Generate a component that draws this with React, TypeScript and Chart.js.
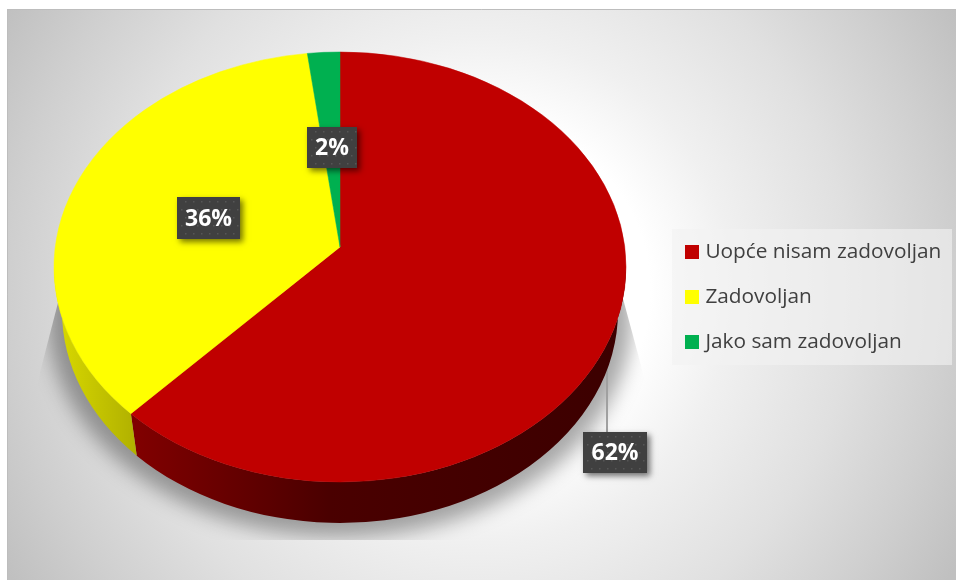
import React, { useEffect, useRef } from "react";
import { Chart, registerables } from "chart.js";

Chart.register(...registerables);

const categories = ["Uopće nisam zadovoljan", "Zadovoljan", "Jako sam zadovoljan"];
const shares = [62, 36, 2];
const sliceColors = ["#C00000", "#FFFF00", "#00B050"];
const sideStops = [
  [["#800000", 0], ["#4a0000", 0.4], ["#3c0000", 1]],
  [["#d6d600", 0], ["#b0b000", 1]],
  [["#006030", 0], ["#006030", 1]],
];

// Apex of the pie in the picture; the rim is an ellipse whose centre lies below it (perspective).
const CX = 340, CY = 247, RX = 286;
const RY = 215, RIM_DROP = 20;
const FLOOR_RX = 278, FLOOR_RY = 212, FLOOR_CY = 311;
const FONT = '"Open Sans", sans-serif';
const LEGEND_FONT = 20.8, LEGEND_GAP = 45 - 20.8;

// label box per slice: offset of box from the apex and size
const labelBoxes = [
  { dx: 243, dy: 185, w: 64, h: 41 },
  { dx: -163, dy: -50, w: 63, h: 42 },
  { dx: -33, dy: -120, w: 50, h: 41 },
];

// Perspective map of a slice angle onto the rim ellipse's parameter.
const P = -RIM_DROP / RY;
function rimAngle(alpha: number) {
  const u = Math.cos(alpha), v = Math.sin(alpha);
  const d = 1 + P * v;
  const u2 = (u * Math.sqrt(1 - P * P)) / d;
  const v2 = (v + P) / d;
  let phi = Math.atan2(v2, u2);
  if (phi < -Math.PI / 2 - 1e-6) phi += Math.PI * 2;
  return phi;
}
function rimSpan(arc: any) {
  const a = rimAngle(arc.startAngle);
  let b = rimAngle(arc.endAngle);
  while (b <= a) b += Math.PI * 2;
  return [a, b];
}

const pie3d = {
  id: "pie3d",
  beforeDraw(chart: any) {
    const ctx = chart.ctx;
    ctx.save();
    ctx.fillStyle = "#ffffff";
    ctx.fillRect(0, 0, chart.width, chart.height);
    const x0 = 7, y0 = 9, x1 = 956, y1 = 580;
    const g = ctx.createRadialGradient(480, 290, 170, 480, 290, 550);
    g.addColorStop(0, "#ffffff");
    g.addColorStop((253 - 170) / 380, "#f0f0f0");
    g.addColorStop((372 - 170) / 380, "#e0e0e0");
    g.addColorStop((470 - 170) / 380, "#cfcfcf");
    g.addColorStop(1, "#c0c0c0");
    ctx.fillStyle = g;
    ctx.fillRect(x0, y0, x1 - x0, y1 - y0);
    ctx.strokeStyle = "#bdbdbd";
    ctx.lineWidth = 1;
    ctx.beginPath();
    ctx.moveTo(x0 + 0.5, y1);
    ctx.lineTo(x0 + 0.5, y0 + 0.5);
    ctx.lineTo(x1, y0 + 0.5);
    ctx.stroke();
    ctx.fillStyle = "rgba(242,242,242,0.62)";
    ctx.fillRect(672, 229, 280, 136);
    ctx.restore();
  },
  afterLayout(chart: any) {
    chart.chartArea = {
      left: CX - RX, right: CX + RX, top: CY - RX, bottom: CY + RX,
      width: 2 * RX, height: 2 * RX,
    };
    const lg = chart.legend;
    if (lg) {
      const w = lg.width;
      lg.left = 685 - LEGEND_GAP;
      lg.right = lg.left + w;
      lg.top = 252 - LEGEND_FONT / 2 - LEGEND_GAP;
      lg.bottom = chart.height;
    }
  },
  afterDatasetsUpdate(chart: any) {
    chart.getDatasetMeta(0).data.forEach((arc: any) => {
      arc.draw = function (ctx: any) {
        const [a, b] = rimSpan(arc);
        ctx.save();
        ctx.fillStyle = arc.options.backgroundColor;
        ctx.strokeStyle = arc.options.backgroundColor;
        ctx.lineWidth = 0.5;
        ctx.beginPath();
        ctx.moveTo(arc.x, arc.y);
        ctx.ellipse(arc.x, arc.y + RIM_DROP, arc.outerRadius, RY, 0, a, b, false);
        ctx.closePath();
        ctx.fill();
        ctx.stroke();
        ctx.restore();
      };
    });
  },
  beforeDatasetsDraw(chart: any) {
    const ctx = chart.ctx;
    const arcs = chart.getDatasetMeta(0).data;
    // soft cast shadow, cut by its own bounds
    ctx.save();
    ctx.beginPath();
    ctx.moveTo(60, 295);
    ctx.lineTo(38, 380);
    ctx.lineTo(38, 540);
    ctx.lineTo(645, 540);
    ctx.lineTo(645, 380);
    ctx.lineTo(622, 295);
    ctx.closePath();
    ctx.clip();
    ctx.filter = "blur(10px)";
    ctx.fillStyle = "rgba(0,0,0,0.34)";
    ctx.beginPath();
    ctx.ellipse(CX, FLOOR_CY + 6, FLOOR_RX + 14, FLOOR_RY + 8, 0, 0, Math.PI * 2);
    ctx.fill();
    ctx.restore();

    // leader for the big slice
    ctx.save();
    ctx.strokeStyle = "#a0a0a0";
    ctx.lineWidth = 2;
    ctx.beginPath();
    ctx.moveTo(CX + 267, CY + 110);
    ctx.lineTo(CX + 267, CY + 186);
    ctx.stroke();
    ctx.restore();

    // side wall, front half only
    arcs.forEach((arc: any, i: number) => {
      const [s, e] = rimSpan(arc);
      const a = Math.max(s, 0);
      const b = Math.min(e, Math.PI);
      if (b <= a) return;
      const xa = arc.x + FLOOR_RX * Math.cos(a), xb = arc.x + FLOOR_RX * Math.cos(b);
      const grad = ctx.createLinearGradient(xb, 0, xa, 0);
      sideStops[i].forEach(([c, st]: any) => grad.addColorStop(st, c));
      ctx.save();
      ctx.fillStyle = grad;
      ctx.beginPath();
      ctx.ellipse(arc.x, arc.y + RIM_DROP, arc.outerRadius, RY, 0, a, b, false);
      ctx.ellipse(arc.x, FLOOR_CY, FLOOR_RX, FLOOR_RY, 0, b, a, true);
      ctx.closePath();
      ctx.fill();
      ctx.restore();
    });
  },
  afterDatasetsDraw(chart: any) {
    const ctx = chart.ctx;
    const data = chart.data.datasets[0].data;
    labelBoxes.forEach((b, i) => {
      const x = CX + b.dx, y = CY + b.dy;
      ctx.save();
      ctx.shadowColor = "rgba(0,0,0,0.55)";
      ctx.shadowBlur = 6;
      ctx.shadowOffsetX = 3;
      ctx.shadowOffsetY = 3;
      ctx.fillStyle = "#404040";
      ctx.fillRect(x, y, b.w, b.h);
      ctx.restore();
      ctx.save();
      ctx.fillStyle = "#565656";
      for (let py = y + 4; py < y + b.h - 1; py += 8) {
        for (let px = x + 4 + (Math.round((py - y) / 8) % 2) * 4; px < x + b.w - 1; px += 8) {
          ctx.fillRect(px, py, 1.5, 1.5);
        }
      }
      ctx.fillStyle = "#ffffff";
      ctx.font = `bold 23px ${FONT}`;
      ctx.textAlign = "center";
      ctx.textBaseline = "middle";
      ctx.fillText(`${data[i]}%`, x + b.w / 2, y + b.h / 2 + 1);
      ctx.restore();
    });
  },
  afterDraw(chart: any) {
    const ctx = chart.ctx;
    const lg = chart.legend;
    ctx.save();
    sliceColors.forEach((c, i) => {
      ctx.fillStyle = c;
      ctx.fillRect(lg.left + LEGEND_GAP, lg.top + LEGEND_GAP + LEGEND_FONT / 2 + i * 45 - 7, 14, 14);
    });
    ctx.restore();
  },
};

export default function App() {
  const ref = useRef<HTMLCanvasElement>(null);
  useEffect(() => {
    const chart = new Chart(ref.current as HTMLCanvasElement, {
      type: "pie",
      data: {
        labels: categories,
        datasets: [{ data: shares, backgroundColor: sliceColors, borderWidth: 0, clip: false } as any],
      },
      options: {
        responsive: false,
        animation: false,
        plugins: {
          tooltip: { enabled: false },
          legend: {
            display: true,
            position: "right",
            align: "start",
            labels: {
              boxWidth: 10,
              boxHeight: 14,
              padding: LEGEND_GAP,
              color: "#404040",
              font: { family: FONT, size: LEGEND_FONT },
            },
          },
        },
      },
      plugins: [pie3d],
    } as any);
    return () => chart.destroy();
  }, []);
  return (
    <div style={{ position: "absolute", left: 0, top: 0, width: 956, height: 580 }}>
      <canvas ref={ref} width={956} height={580} style={{ display: "block" }} />
    </div>
  );
}
